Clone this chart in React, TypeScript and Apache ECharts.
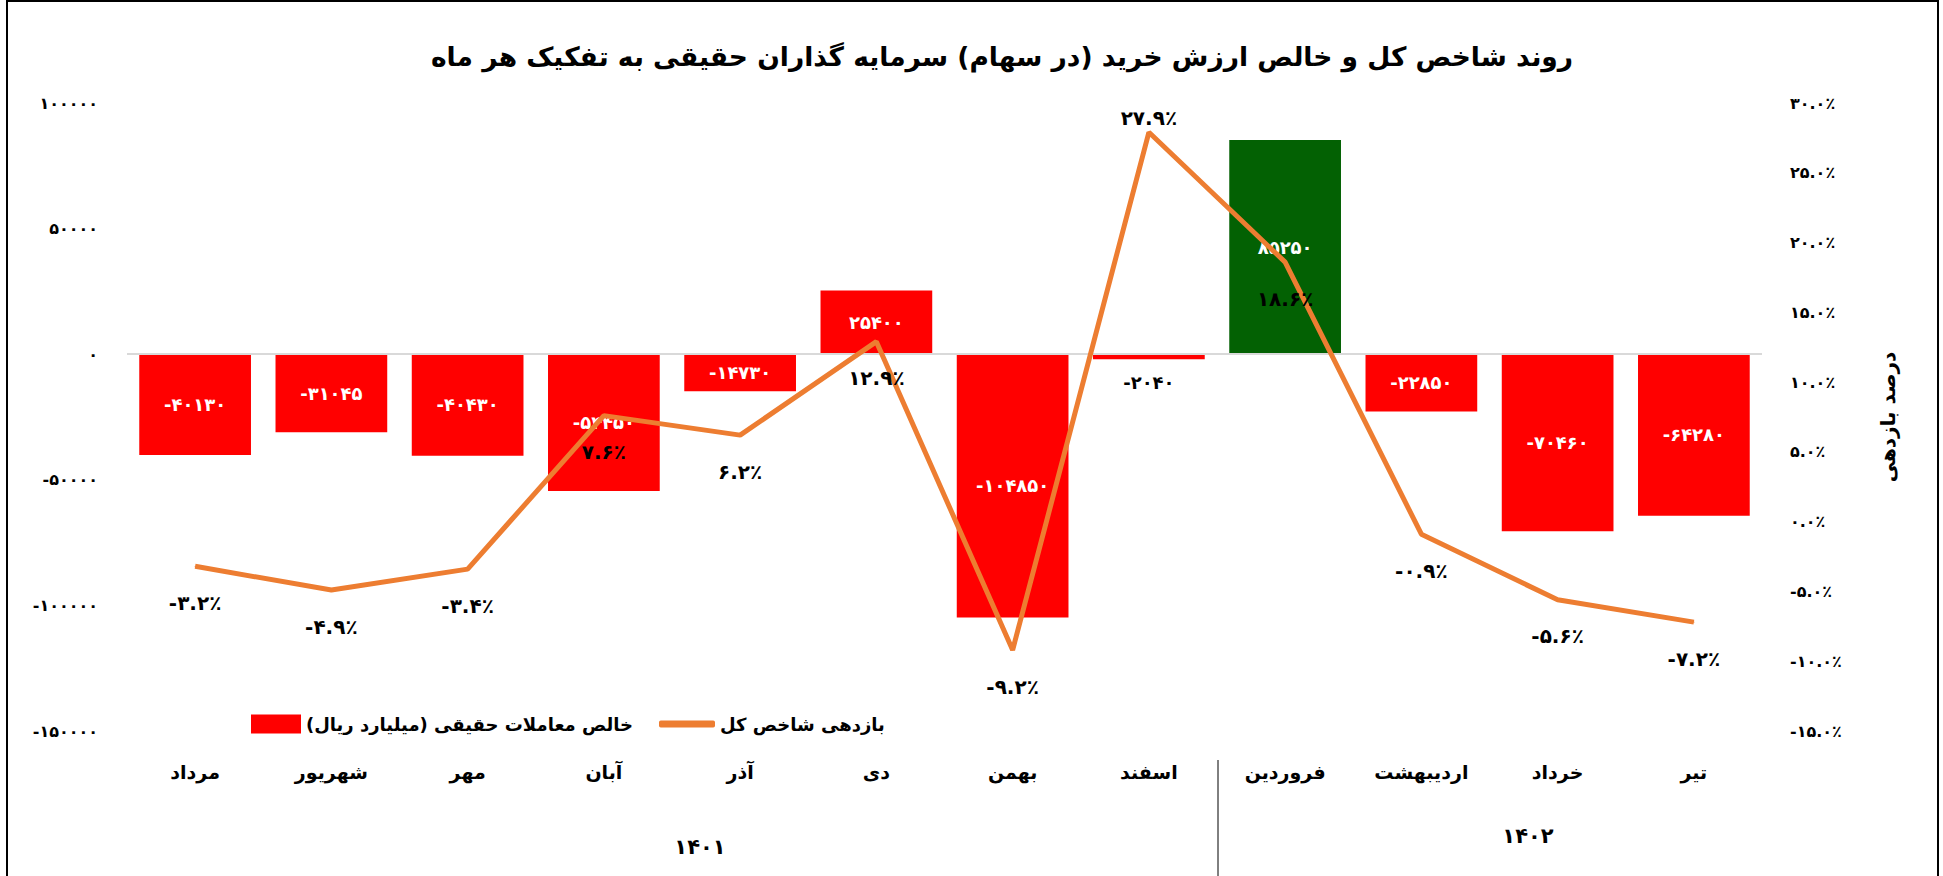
import React, { useEffect, useRef } from "react";
import * as echarts from "echarts";

const months = ["مرداد", "شهریور", "مهر", "آبان", "آذر", "دی", "بهمن", "اسفند", "فروردین", "اردیبهشت", "خرداد", "تیر"];
const netReal = [-40130, -31045, -40430, -54450, -14730, 25400, -104850, -2040, 85250, -22850, -70460, -64280];
const indexReturn = [-3.2, -4.9, -3.4, 7.6, 6.2, 12.9, -9.2, 27.9, 18.6, -0.9, -5.6, -7.2];
const greenMonths = ["فروردین"];
const years = ["۱۴۰۱", "۱۴۰۲"];

const barName = "\u200Fخالص معاملات حقیقی (میلیارد ریال)\u200F";
const lineName = "بازدهی شاخص کل";
const titleText = "روند شاخص کل و خالص ارزش خرید (در سهام) سرمایه گذاران حقیقی به تفکیک هر ماه";
const rightAxisName = "درصد بازدهی";

const FONT = "DejaVu Sans";
const toFa = (s: string) => s.replace(/[0-9]/g, (d) => "۰۱۲۳۴۵۶۷۸۹"[Number(d)]);

export default function App() {
  const ref = useRef<HTMLDivElement>(null);
  useEffect(() => {
    const chart = echarts.init(ref.current!, null, { renderer: "svg" });
    chart.setOption({
      animation: false,
      backgroundColor: "#ffffff",
      textStyle: { fontFamily: FONT },
      grid: { left: 127, right: 181, top: 103, bottom: 145, containLabel: false },
      legend: [
        {
          data: [barName],
          left: 246,
          top: 708,
          icon: "rect",
          itemWidth: 50,
          itemHeight: 19,
          textStyle: { fontFamily: FONT, fontSize: 18, fontWeight: "bold", color: "#000", lineHeight: 22 },
        },
        {
          data: [lineName],
          left: 654,
          top: 708,
          icon: "roundRect",
          itemWidth: 56,
          itemHeight: 7,
          textStyle: { fontFamily: FONT, fontSize: 18, fontWeight: "bold", color: "#000", lineHeight: 22 },
        },
      ],
      xAxis: {
        type: "category",
        data: months,
        axisLine: { show: false },
        axisTick: { show: false },
        axisLabel: { margin: 31, fontFamily: FONT, fontSize: 19, fontWeight: "bold", color: "#000" },
      },
      yAxis: [
        {
          type: "value",
          min: -150000,
          max: 100000,
          interval: 50000,
          splitLine: { show: false },
          axisLine: { show: false },
          axisTick: { show: false },
          axisLabel: {
            margin: 29,
            fontFamily: FONT,
            fontSize: 16,
            fontWeight: "bold",
            color: "#000",
            formatter: (v: number) => toFa(String(v)),
          },
        },
        {
          type: "value",
          position: "right",
          min: -15,
          max: 30,
          interval: 5,
          splitLine: { show: false },
          axisLine: { show: false },
          axisTick: { show: false },
          name: rightAxisName,
          nameLocation: "middle",
          nameRotate: 90,
          nameGap: 116,
          nameTextStyle: { fontFamily: FONT, fontSize: 20, fontWeight: "bold", color: "#000" },
          axisLabel: {
            margin: 28,
            fontFamily: FONT,
            fontSize: 16,
            fontWeight: "bold",
            color: "#000",
            formatter: (v: number) => toFa(v.toFixed(1)) + "٪",
          },
        },
      ],
      series: [
        {
          name: barName,
          type: "bar",
          yAxisIndex: 0,
          barCategoryGap: "18%",
          itemStyle: { color: "#FF0000" },
          data: netReal.map((v, i) =>
            greenMonths.includes(months[i])
              ? { value: v, itemStyle: { color: "#036103" } }
              : v > -5000 && v < 0
              ? { value: v, label: { position: "bottom", distance: 14, color: "#000" } }
              : v
          ),
          label: {
            show: true,
            position: "inside",
            color: "#fff",
            fontFamily: FONT,
            fontSize: 18,
            fontWeight: "bold",
            formatter: (p: any) => toFa(String(p.value)),
          },
          markLine: {
            silent: true,
            symbol: ["none", "none"],
            label: { show: false },
            lineStyle: { color: "#D9D9D9", width: 2, type: "solid" },
            data: [{ yAxis: 0 }],
          },
        },
        {
          name: lineName,
          type: "line",
          yAxisIndex: 1,
          symbol: "circle",
          symbolSize: 1,
          showSymbol: true,
          itemStyle: { color: "#ED7D31" },
          lineStyle: { color: "#ED7D31", width: 5 },
          z: 5,
          data: indexReturn.map((v, i) =>
            i === 7 ? { value: v, label: { position: "top", distance: 4 } } : v
          ),
          label: {
            show: true,
            position: "bottom",
            distance: 26,
            color: "#000",
            fontFamily: FONT,
            fontSize: 20,
            fontWeight: "bold",
            formatter: (p: any) => toFa(Number(p.value).toFixed(1)) + "٪",
          },
        },
      ],
      graphic: [
        {
          type: "rect",
          shape: { x: 7, y: 1, width: 1931, height: 900 },
          style: { fill: "none", stroke: "#000", lineWidth: 2 },
          silent: true,
        },
        {
          type: "text",
          x: 1002,
          y: 56,
          style: {
            text: titleText,
            fontFamily: FONT,
            fontSize: 26.5,
            fontWeight: "bold",
            fill: "#000",
            align: "center",
            verticalAlign: "middle",
          },
        },
        {
          type: "line",
          shape: { x1: 1218, y1: 760, x2: 1218, y2: 876 },
          style: { stroke: "#000", lineWidth: 1 },
        },
        {
          type: "text",
          x: 700,
          y: 847,
          style: { text: years[0], fontFamily: FONT, fontSize: 21, fontWeight: "bold", fill: "#000", align: "center", verticalAlign: "middle" },
        },
        {
          type: "text",
          x: 1528,
          y: 836,
          style: { text: years[1], fontFamily: FONT, fontSize: 21, fontWeight: "bold", fill: "#000", align: "center", verticalAlign: "middle" },
        },
      ],
    });
    return () => chart.dispose();
  }, []);
  return (
    <div
      ref={ref}
      style={{ position: "fixed", left: 0, top: 0, width: 1943, height: 876, background: "#fff" }}
    />
  );
}
